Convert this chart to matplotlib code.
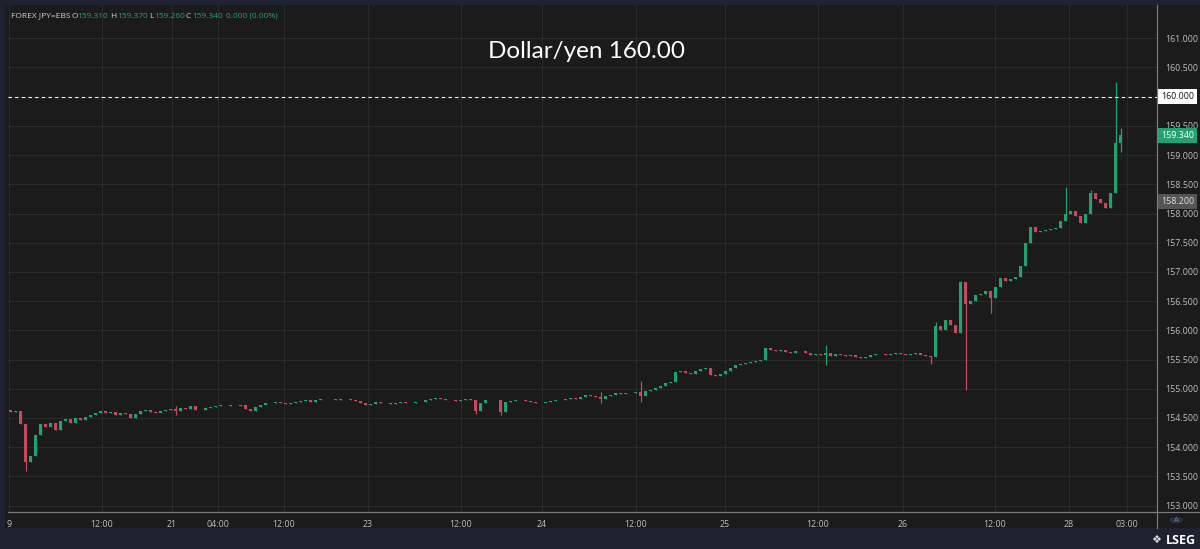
import matplotlib.pyplot as plt
from matplotlib.patches import Rectangle, Circle
from matplotlib.lines import Line2D
from matplotlib.transforms import blended_transform_factory
import numpy as np

plt.rcParams['font.family'] = ['Open Sans', 'DejaVu Sans']

# candle closes, one per bar (open = previous close)
closes = [
    154.60, 154.62, 154.40, 153.75, 153.85, 154.20, 154.40, 154.35, 154.42, 154.30,
    154.45, 154.48, 154.42, 154.50, 154.46, 154.52, 154.55, 154.58, 154.62, 154.58,
    154.60, 154.55, 154.58, 154.56, 154.50, 154.57, 154.62, 154.63, 154.61, 154.58,
    154.62, 154.64, 154.66, 154.62, 154.67, 154.66, 154.70, 154.64, 154.63, 154.67,
    154.69, 154.71, 154.72, 154.73, 154.71, 154.70, 154.72, 154.66, 154.62, 154.68,
    154.72, 154.76, 154.75, 154.77, 154.76, 154.74, 154.75, 154.77, 154.79, 154.80,
    154.78, 154.80, 154.83, 154.82, 154.83, 154.81, 154.82, 154.83, 154.81, 154.79,
    154.76, 154.72, 154.74, 154.77, 154.75, 154.76, 154.74, 154.76, 154.77, 154.75,
    154.76, 154.78, 154.77, 154.80, 154.83, 154.84, 154.82, 154.81, 154.80, 154.79,
    154.81, 154.82, 154.80, 154.62, 154.76, 154.80, 154.81, 154.80, 154.60, 154.78,
    154.79, 154.80, 154.81, 154.79, 154.77, 154.75, 154.76, 154.77, 154.79, 154.80,
    154.81, 154.82, 154.84, 154.83, 154.86, 154.89, 154.87, 154.86, 154.82, 154.88,
    154.90, 154.92, 154.91, 154.93, 154.92, 154.94, 154.88, 154.97, 154.98, 155.02,
    155.05, 155.09, 155.12, 155.28, 155.30, 155.27, 155.25, 155.30, 155.33, 155.35,
    155.24, 155.22, 155.25, 155.30, 155.36, 155.40, 155.42, 155.44, 155.45, 155.47,
    155.50, 155.70, 155.66, 155.64, 155.67, 155.63, 155.61, 155.65, 155.64, 155.62,
    155.58, 155.60, 155.57, 155.62, 155.56, 155.59, 155.58, 155.56, 155.57, 155.55,
    155.52, 155.55, 155.57, 155.59, 155.60, 155.58, 155.60, 155.61, 155.59, 155.57,
    155.60, 155.61, 155.58, 155.56, 155.55, 156.08, 156.00, 156.18, 156.10, 155.95,
    156.82, 156.45, 156.50, 156.60, 156.62, 156.68, 156.55, 156.75, 156.90, 156.84,
    156.88, 156.92, 157.10, 157.50, 157.77, 157.68, 157.70, 157.72, 157.74, 157.76,
    157.88, 158.00, 158.05, 157.95, 157.84, 158.00, 158.35, 158.25, 158.18, 158.10,
    158.35, 159.20, 159.34,
]
first_open = 154.64

# long wicks
spike_low = {3: 153.60, 33: 154.55, 93: 154.56, 98: 154.55, 118: 154.76, 126: 154.78,
             163: 155.40, 184: 155.43, 191: 154.98, 196: 156.29, 222: 159.05}
spike_high = {33: 154.70, 118: 154.94, 126: 155.14, 163: 155.75, 185: 156.15, 190: 156.85,
              211: 158.45, 216: 158.40, 221: 160.25, 222: 159.47}

tick_pos = [-0.3, 18.3, 32.3, 41.5, 54.7, 71.5, 90.1, 106.3, 125.1, 142.9, 161.5, 178.5, 196.9, 211.7, 223.3]
tick_labels = ['9', '12:00', '21', '04:00', '12:00', '23', '12:00', '24', '12:00', '25',
               '12:00', '26', '12:00', '28', '03:00']
price_ticks = [153.0, 153.5, 154.0, 154.5, 155.0, 155.5, 156.0, 156.5, 157.0,
               157.5, 158.0, 158.5, 159.0, 159.5, 160.0, 160.5, 161.0]

level = 160.0
last_price = 159.34
mark_price = 158.20

UP = '#23a26f'
DOWN = '#c64a5c'
BG = '#1b1b1b'
FRAME = '#1e2231'
TXT = '#bdbdbd'

W, H = 1200, 549
fig = plt.figure(figsize=(12, 5.49), dpi=100, facecolor=FRAME)

def fx(px):
    return px / W

def fy(py):
    return 1 - py / H

# dark chart panel
panel = Rectangle((fx(5), fy(528)), fx(1200) - fx(5), fy(5) - fy(528),
                  transform=fig.transFigure, facecolor=BG, edgecolor='none', zorder=-10)
fig.patches.append(panel)

ax = fig.add_axes([fx(8), fy(512), fx(1157) - fx(8), fy(5) - fy(512)], zorder=1)
ax.set_facecolor(BG)

closes = np.array(closes)
opens = np.concatenate([[first_open], closes[:-1]])
idx = np.arange(len(closes))
lows = np.minimum(opens, closes)
highs = np.maximum(opens, closes)
for k, v in spike_low.items():
    lows[k] = v
for k, v in spike_high.items():
    highs[k] = v
colors = [UP if c >= o else DOWN for o, c in zip(opens, closes)]
body = closes - opens
body = np.where(np.abs(body) < 0.01, np.where(body >= 0, 0.01, -0.01), body)

ax.vlines(idx, lows, highs, colors=colors, lw=0.9, zorder=3)
ax.bar(idx, body, bottom=opens, width=0.45, color=colors, linewidth=0, zorder=3)

ax.set_xlim(-0.5, 229.3)
ax.set_ylim(152.89, 161.57)

ax.set_xticks(tick_pos)
ax.set_xticklabels(tick_labels)
ax.set_yticks(price_ticks)
# the 160 label sits under the level box
ax.set_yticklabels(['' if p == level else '%.3f' % p for p in price_ticks])
ax.yaxis.tick_right()
ax.tick_params(axis='both', length=0, colors=TXT, labelsize=6.4)
ax.tick_params(axis='x', pad=6)
ax.tick_params(axis='y', pad=6)
ax.grid(True, color='#2a2a2a', lw=0.8, zorder=0)
for s in ax.spines.values():
    s.set_visible(False)

# 160 level
ax.axhline(level, color='white', lw=0.8, ls=(0, (3, 3)), zorder=4)

trans = blended_transform_factory(ax.transAxes, ax.transData)
box_x = 1.0035
ax.text(box_x, level, '%.3f' % level, transform=trans, ha='left', va='center', fontsize=6.4,
        color='#111111', bbox=dict(boxstyle='square,pad=0.35', fc='white', ec='none'),
        clip_on=False, zorder=6)
ax.text(box_x, last_price, '%.3f' % last_price, transform=trans, ha='left', va='center', fontsize=6.4,
        color='white', bbox=dict(boxstyle='square,pad=0.35', fc=UP, ec='none'),
        clip_on=False, zorder=6)
ax.text(box_x, mark_price, '%.3f' % mark_price, transform=trans, ha='left', va='center', fontsize=6.4,
        color='#e0e0e0', bbox=dict(boxstyle='square,pad=0.35', fc='#555555', ec='none'),
        clip_on=False, zorder=6)

# separators
fig.add_artist(Line2D([fx(8), fx(1200)], [fy(512), fy(512)], color='#7a7a7a', lw=0.9, zorder=5))
fig.add_artist(Line2D([fx(1157), fx(1157)], [fy(5), fy(528)], color='#7a7a7a', lw=0.9, zorder=5))

# title
fig.text(fx(587), fy(52), 'Dollar/yen 160.00', color='white', fontsize=17.5, family='Lato',
         ha='center', va='center', zorder=6)

# header
hdr = [(11, 'FOREX JPY=EBS', '#d0d0d0'), (71, 'O', '#d0d0d0'), (77, '159.310', UP),
       (110, 'H', '#d0d0d0'), (117, '159.370', UP), (149, 'L', '#d0d0d0'), (154, '159.260', UP),
       (186, 'C', '#d0d0d0'), (192, '159.340', UP), (226, '0.000 (0.00%)', UP)]
for px, s, c in hdr:
    fig.text(fx(px), fy(16), s, color=c, fontsize=6.0, ha='left', va='center', zorder=6)

# auto-scale button and logo
fig.add_artist(Circle((fx(1176), fy(520)), 7 / W, transform=fig.transFigure,
                      facecolor='#2a2f40', edgecolor='none', zorder=6))
fig.text(fx(1176), fy(520), 'A', color='#7c8296', fontsize=5.5, ha='center', va='center', zorder=7)
fig.text(fx(1196), fy(540), 'LSEG', color='white', fontsize=9, fontweight='bold',
         ha='right', va='center')
fig.text(fx(1156), fy(540), '\u2756', color='#dddddd', fontsize=8, ha='center', va='center',
         family='DejaVu Sans')

fig.savefig('out.png', dpi=100, facecolor=FRAME)
